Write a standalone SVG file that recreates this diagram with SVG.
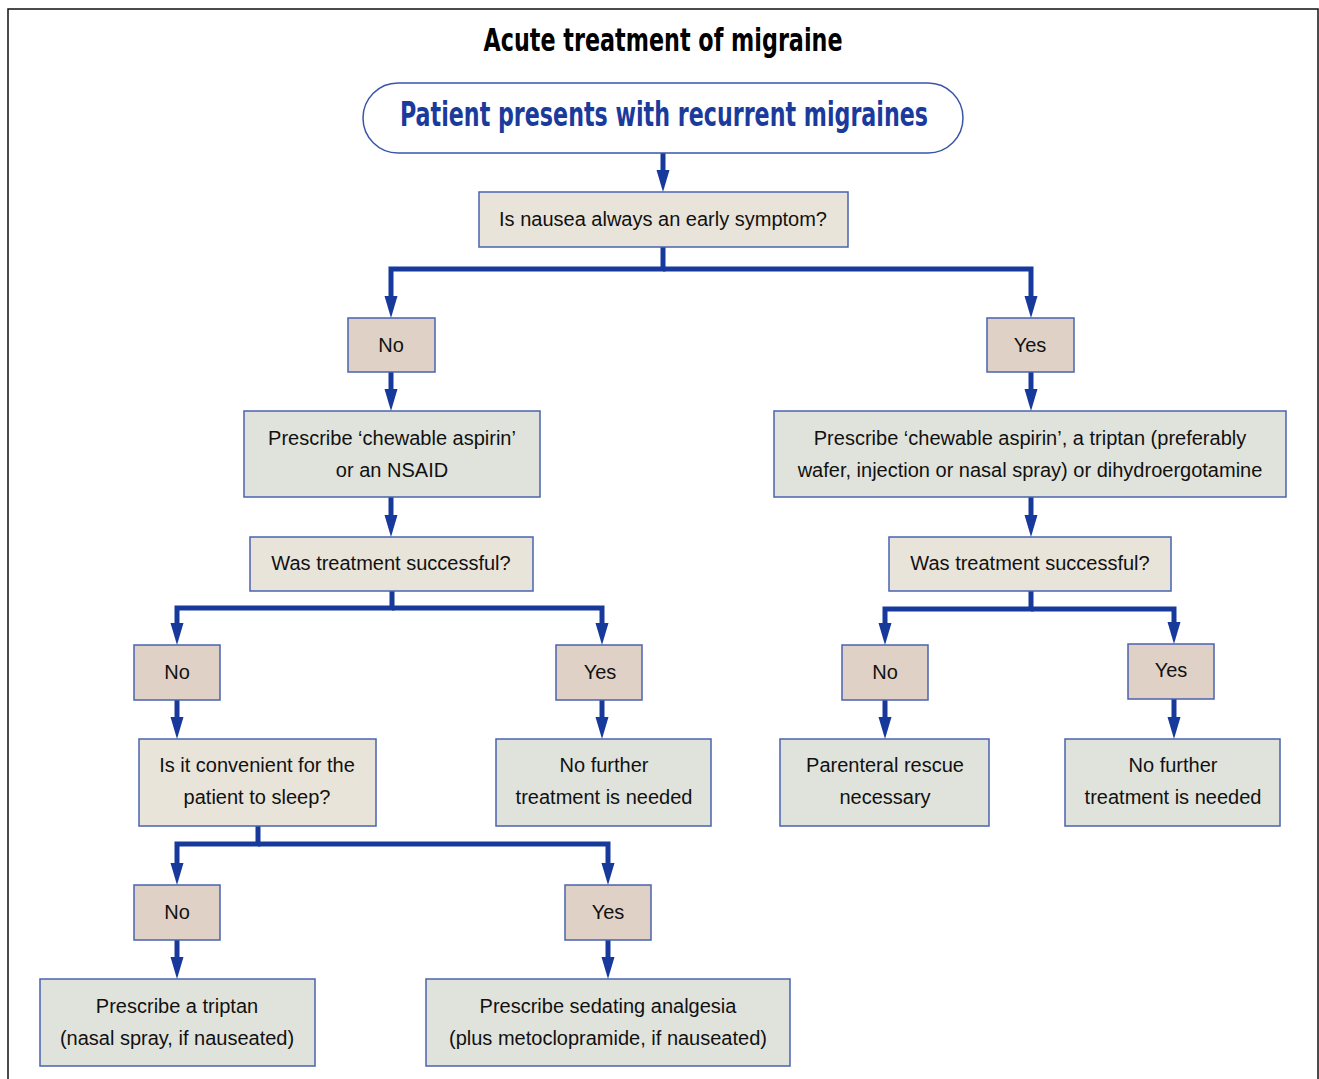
<svg xmlns="http://www.w3.org/2000/svg" width="1319" height="1079" viewBox="0 0 1319 1079">
<defs>
<style>
.q{fill:#e8e4d9;stroke:#4a63b0;stroke-width:1.5}
.yn{fill:#dfd1c5;stroke:#4a63b0;stroke-width:1.5}
.t{fill:#e0e3dc;stroke:#4a63b0;stroke-width:1.5}
text{font-family:"Liberation Sans",Arial,sans-serif;font-size:20px;fill:#111;text-anchor:middle}
.title{font-family:"Liberation Sans Narrow","DejaVu Sans Condensed","Liberation Sans",sans-serif;font-weight:bold;font-size:32px;fill:#000}
.start{font-family:"Liberation Sans Narrow","DejaVu Sans Condensed","Liberation Sans",sans-serif;font-weight:bold;font-size:33px;fill:#1a3a9c}
.c{fill:none;stroke:#17399b;stroke-width:5;marker-end:url(#ah)}
</style>
<marker id="ah" viewBox="0 -7 22 14" refX="10" refY="0" markerWidth="22" markerHeight="14" markerUnits="userSpaceOnUse" orient="auto">
<path d="M0,-6.5 L22,0 L0,6.5 z" fill="#17399b"/>
</marker>
</defs>
<rect x="8" y="9" width="1310" height="1080" fill="#fff" stroke="#111" stroke-width="1.5"/>
<text class="title" x="663" y="51" textLength="359" lengthAdjust="spacingAndGlyphs">Acute treatment of migraine</text>

<g id="connectors">
<path class="c" d="M663,153 V180"/>
<path class="c" d="M663,247 V269 H391 V306"/>
<path class="c" d="M663,269 H1031 V306"/>
<path class="c" d="M391,372 V399"/>
<path class="c" d="M1031,372 V399"/>
<path class="c" d="M391,497 V525"/>
<path class="c" d="M1031,497 V525"/>
<path class="c" d="M392,591 V608 H177 V633"/>
<path class="c" d="M392,608 H602 V633"/>
<path class="c" d="M1031,591 V609 H885 V633"/>
<path class="c" d="M1031,609 H1174 V632"/>
<path class="c" d="M177,700 V727"/>
<path class="c" d="M602,700 V727"/>
<path class="c" d="M885,700 V727"/>
<path class="c" d="M1174,699 V727"/>
<path class="c" d="M258,826 V844 H177 V873"/>
<path class="c" d="M258,844 H608 V873"/>
<path class="c" d="M177,940 V967"/>
<path class="c" d="M608,940 V967"/>
</g>

<g id="start">
<rect x="363" y="83" width="600" height="70" rx="35" ry="35" fill="#fff" stroke="#3a56a8" stroke-width="1.5"/>
<text class="start" x="664" y="126" textLength="528" lengthAdjust="spacingAndGlyphs">Patient presents with recurrent migraines</text>
</g>
<g id="q1"><rect class="q" x="479" y="192" width="369" height="55"/><text x="663" y="226">Is nausea always an early symptom?</text></g>
<g id="no1"><rect class="yn" x="348" y="318" width="87" height="54"/><text x="391" y="352">No</text></g>
<g id="yes1"><rect class="yn" x="987" y="318" width="87" height="54"/><text x="1030" y="352">Yes</text></g>
<g id="t1"><rect class="t" x="244" y="411" width="296" height="86"/><text x="392" y="445">Prescribe ‘chewable aspirin’</text><text x="392" y="477">or an NSAID</text></g>
<g id="t2"><rect class="t" x="774" y="411" width="512" height="86"/><text x="1030" y="445">Prescribe ‘chewable aspirin’, a triptan (preferably</text><text x="1030" y="477">wafer, injection or nasal spray) or dihydroergotamine</text></g>
<g id="q2"><rect class="q" x="250" y="537" width="283" height="54"/><text x="391" y="570">Was treatment successful?</text></g>
<g id="q3"><rect class="q" x="889" y="537" width="282" height="54"/><text x="1030" y="570">Was treatment successful?</text></g>
<g id="no2"><rect class="yn" x="134" y="645" width="86" height="55"/><text x="177" y="679">No</text></g>
<g id="yes2"><rect class="yn" x="556" y="645" width="86" height="55"/><text x="600" y="679">Yes</text></g>
<g id="no3"><rect class="yn" x="842" y="645" width="86" height="55"/><text x="885" y="679">No</text></g>
<g id="yes3"><rect class="yn" x="1128" y="644" width="86" height="55"/><text x="1171" y="677">Yes</text></g>
<g id="q4"><rect class="q" x="139" y="739" width="237" height="87"/><text x="257" y="772">Is it convenient for the</text><text x="257" y="804">patient to sleep?</text></g>
<g id="t3"><rect class="t" x="496" y="739" width="215" height="87"/><text x="604" y="772">No further</text><text x="604" y="804">treatment is needed</text></g>
<g id="t4"><rect class="t" x="780" y="739" width="209" height="87"/><text x="885" y="772">Parenteral rescue</text><text x="885" y="804">necessary</text></g>
<g id="t5"><rect class="t" x="1065" y="739" width="215" height="87"/><text x="1173" y="772">No further</text><text x="1173" y="804">treatment is needed</text></g>
<g id="no4"><rect class="yn" x="134" y="885" width="86" height="55"/><text x="177" y="919">No</text></g>
<g id="yes4"><rect class="yn" x="565" y="885" width="86" height="55"/><text x="608" y="919">Yes</text></g>
<g id="t6"><rect class="t" x="40" y="979" width="275" height="87"/><text x="177" y="1013">Prescribe a triptan</text><text x="177" y="1045">(nasal spray, if nauseated)</text></g>
<g id="t7"><rect class="t" x="426" y="979" width="364" height="87"/><text x="608" y="1013">Prescribe sedating analgesia</text><text x="608" y="1045">(plus metoclopramide, if nauseated)</text></g>
</svg>
